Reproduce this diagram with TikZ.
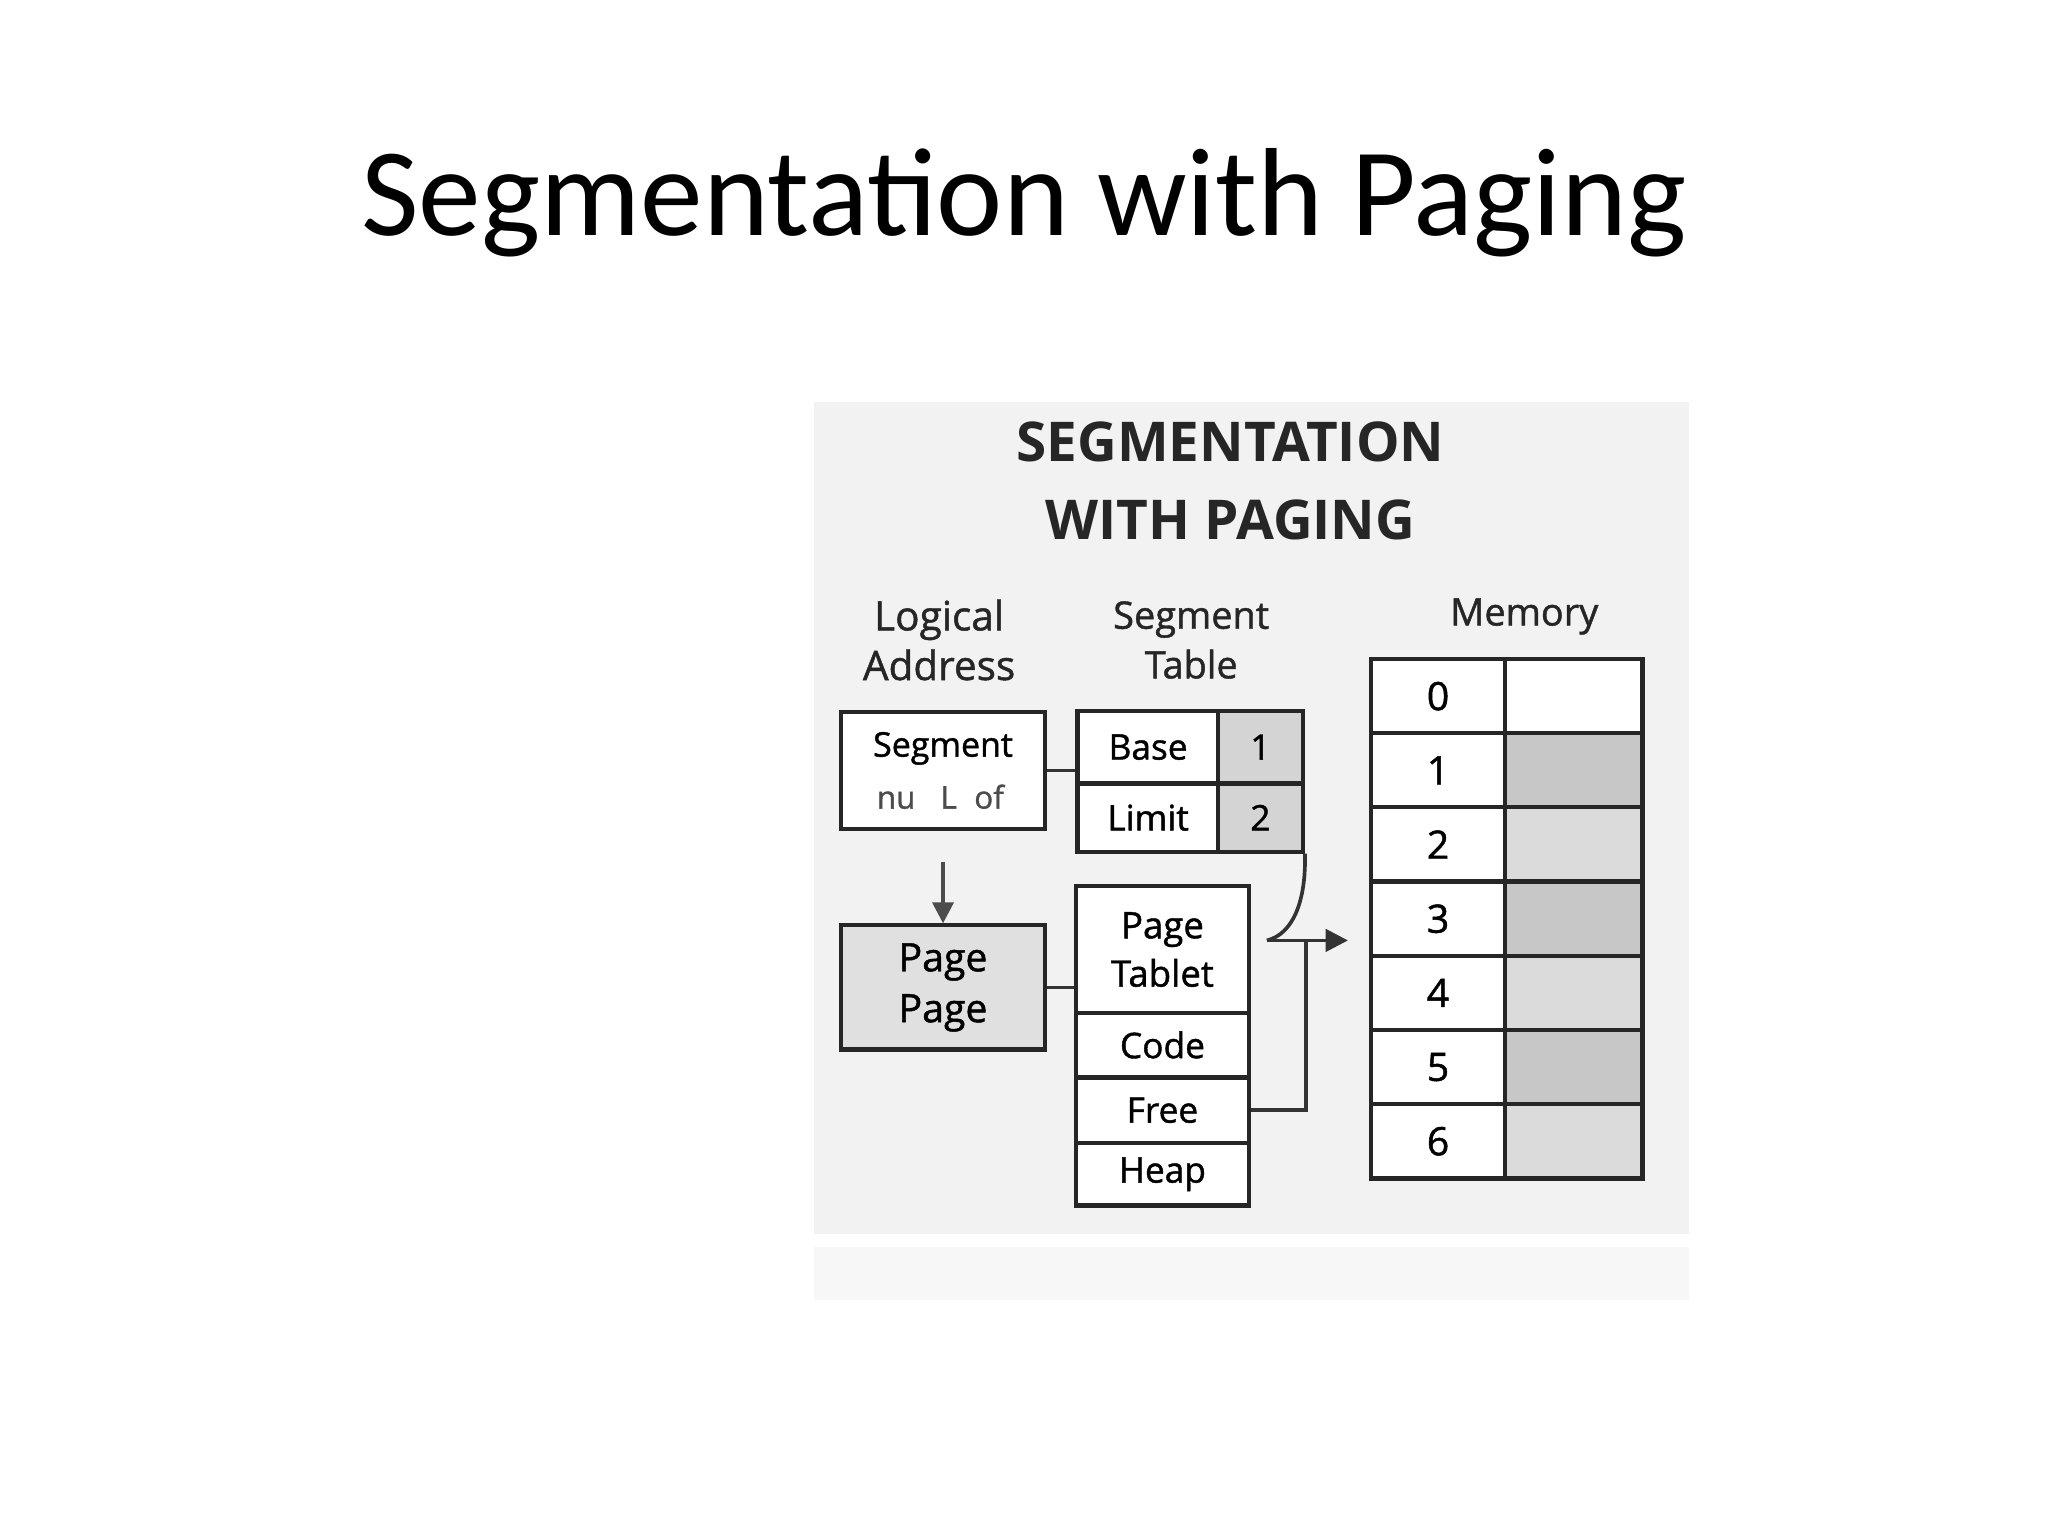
\documentclass[tikz,border=0pt]{standalone}
\usepackage{fontspec}
\setmainfont{Carlito}
\newfontfamily\dfont[FakeBold=1.2]{Open Sans}
\newfontfamily\hfont{Open Sans}
\usetikzlibrary{arrows.meta}
\tikzset{
 bx/.style={draw=black!85,line width=3.2pt,inner sep=0pt,font=\dfont\fontsize{27}{31}\selectfont,align=center},
 lbl/.style={font=\dfont\fontsize{31}{38}\selectfont,align=center,text=black!85},
 wire/.style={draw=black!80,line width=2.8pt},
}
\begin{document}
\begin{tikzpicture}[x=1pt,y=-1pt]
\useasboundingbox (0,0) rectangle (1568,1176);
\node[font=\fontsize{96}{110}\selectfont] (title) at (784,155) {Segmentation with Paging};
\fill[black!5] (623,308) rectangle (1293,945);
\fill[black!3] (623,955) rectangle (1293,995);
\node[font=\hfont\bfseries\fontsize{42}{60}\selectfont,align=center,text=black!85] (hdr) at (942,368) {SEGMENTATION\\WITH PAGING};
\node[lbl] (la) at (719,490) {Logical\\Address};
\node[lbl,font=\dfont\fontsize{29}{38}\selectfont] (st) at (912,490) {Segment\\Table};
\node[lbl,font=\dfont\fontsize{29}{38}\selectfont] (mem) at (1167,472) {Memory};
% logical address
\node[bx,fill=white,minimum width=156pt,minimum height=90pt] (lab) at (722,590) {};
\node[font=\dfont\fontsize{26}{30}\selectfont] (seg) at (722,573) {Segment};
\node[font=\dfont\fontsize{24}{30}\selectfont,text=black!70] (nu) at (720,610) {nu\hspace{0.8em}L\hspace{0.3em} of};
\node[bx,fill=black!12,minimum width=156pt,minimum height=95pt,font=\dfont\fontsize{30}{39}\selectfont] (pp) at (722,756) {Page\\Page};
\draw[wire,draw=black!70,-{Triangle[length=16pt,width=16pt]}] (lab.south)+(0,23) -- (pp.north);
% segment table
\node[bx,fill=white,minimum width=108pt,minimum height=55pt] (base) at (879,572) {Base};
\node[bx,fill=black!17,minimum width=65pt,minimum height=55pt] (b1) at (965,572) {1};
\node[bx,fill=white,minimum width=108pt,minimum height=52pt] (lim) at (879,626) {Limit};
\node[bx,fill=black!17,minimum width=65pt,minimum height=52pt] (l2) at (965,626) {2};
\draw[wire] (lab.east) -- (lab.east -| base.west);
% page table
\node[bx,fill=white,minimum width=133pt,minimum height=97pt,font=\dfont\fontsize{28}{37}\selectfont] (pt) at (890,727) {Page\\Tablet};
\node[bx,fill=white,minimum width=133pt,minimum height=49pt] (code) at (890,800) {Code};
\node[bx,fill=white,minimum width=133pt,minimum height=50pt] (free) at (890,850) {Free};
\node[bx,fill=white,minimum width=133pt,minimum height=48pt] (heap) at (890,899) {Heap};
\draw[wire] (pp.east) -- (pp.east -| pt.west);
% arrow into memory
\coordinate (j) at (970,720);
\coordinate (e) at (1032,720);
\draw[wire] (l2.south east) .. controls (1000,690) and (990,715) .. (j);
\draw[wire,-{Triangle[length=17pt,width=17pt]}] (j) -- (e);
\draw[wire] (free.east) -- (1000,850) -- (1000,720);
% memory
\foreach \i/\c in {0/white,1/black!22,2/black!14,3/black!22,4/black!14,5/black!22,6/black!14}{
 \node[bx,fill=white,minimum width=103pt,minimum height=57pt,font=\dfont\fontsize{30}{36}\selectfont] (m\i) at (1101,{533+56.8*\i}) {\i};
 \node[bx,fill=\c,minimum width=105pt,minimum height=57pt] (n\i) at (1205,{533+56.8*\i}) {};
}
\end{tikzpicture}
\end{document}
